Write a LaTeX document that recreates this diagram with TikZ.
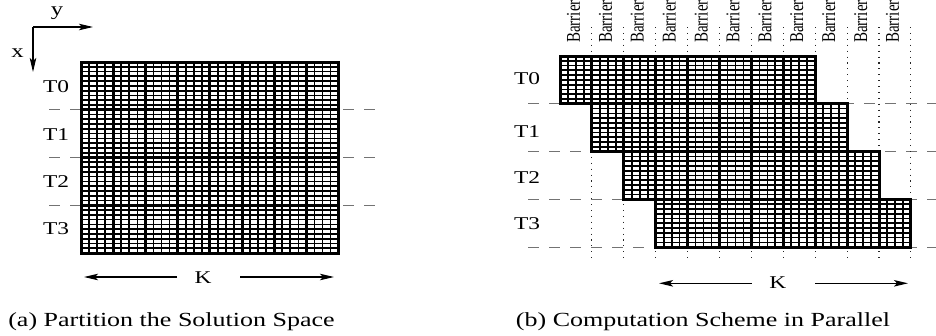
\documentclass[tikz,border=0pt]{standalone}
\usepackage{fontspec}
\setmainfont{Liberation Serif}
\usetikzlibrary{arrows.meta}
\newcommand{\sx}[1]{\scalebox{1.3}[1]{#1}}
\newcommand{\gridrect}[6]{%
  \fill[white] (#1,#2) rectangle ({#1+#3*#5},{#2+#4*#6});
  \pgfmathtruncatemacro\nsx{4*#3-1}
  \pgfmathtruncatemacro\nsy{10*#4-1}
  \foreach \i in {1,...,\nsx} \draw[thinln] ({#1+\i*#5/4},#2) -- ({#1+\i*#5/4},{#2+#4*#6});
  \foreach \j in {1,...,\nsy} \draw[thinln] (#1,{#2+\j*#6/10}) -- ({#1+#3*#5},{#2+\j*#6/10});
  \foreach \i in {1,...,#3} \draw[thickln] ({#1+\i*#5},#2) -- ({#1+\i*#5},{#2+#4*#6});
  \foreach \j in {1,...,#4} \draw[thickln] (#1,{#2+\j*#6}) -- ({#1+#3*#5},{#2+\j*#6});
  \draw[thickln] (#1,#2) rectangle ({#1+#3*#5},{#2+#4*#6});
}
\tikzset{
  thinln/.style={line width=1.7bp},
  thickln/.style={line width=3bp, line join=miter},
  sepline/.style={line width=1.2bp, black!55, dash pattern=on 10.5bp off 10.5bp},
  barline/.style={line width=1.1bp, black!85, dash pattern=on 1.1bp off 4.8bp},
  arr/.style={line width=1.2bp, -{Stealth[length=14bp,width=6.5bp,inset=3bp]}},
  tlabel/.style={inner sep=0pt, font=\fontsize{18bp}{20bp}\selectfont},
  axlabel/.style={inner sep=0pt, font=\fontsize{19bp}{21bp}\selectfont},
  caption/.style={inner sep=0pt, font=\fontsize{20bp}{22bp}\selectfont},
  barlabel/.style={inner sep=0pt, rotate=90, anchor=base west, font=\fontsize{15bp}{17bp}\selectfont},
}
\begin{document}
\begin{tikzpicture}[x=1bp,y=-1bp]
\useasboundingbox (0,0) rectangle (936,335);

% ---------------- panel (a) ----------------
\coordinate (ax0) at (33,27);
\coordinate (axY) at (93,27);
\coordinate (axX) at (33,72);
\draw[arr] (ax0) -- (axY);
\draw[arr] (ax0) -- (axX);
\node[axlabel, anchor=base] (ylab) at (57,15) {\sx{y}};
\node[axlabel, anchor=base] (xlab) at (17.5,57) {\sx{x}};

\foreach \y in {109.75,157.5,205.25} \draw[sepline] (49,\y) -- (378,\y);
\gridrect{81}{62}{8}{4}{32.2}{47.75}

\node[tlabel] (aT0) at (56,87) {\sx{T0}};
\node[tlabel] (aT1) at (56,135) {\sx{T1}};
\node[tlabel] (aT2) at (56,182) {\sx{T2}};
\node[tlabel] (aT3) at (56,229) {\sx{T3}};

\node[tlabel, anchor=base] (aK) at (203,283.3) {\sx{K}};
\coordinate (aKl) at (177,277);
\coordinate (aKle) at (84,277);
\coordinate (aKr) at (240,277);
\coordinate (aKre) at (334,277);
\draw[arr] (aKl) -- (aKle);
\draw[arr] (aKr) -- (aKre);

\node[caption, anchor=base] (capa) at (171.5,326) {\sx{(a) Partition the Solution Space}};

% ---------------- panel (b) ----------------
\foreach \y in {103.8,151.6,199.4,247.2} \draw[sepline] (528,\y) -- (940,\y);
\foreach \k in {1,...,11} {
  \draw[barline] ({560+\k*31.9},27) -- ({560+\k*31.9},261);
  \node[barlabel] (bar\k) at ({560+\k*31.9-12},43) {\scalebox{1}[1.3]{Barrier}};
}
\gridrect{560}{56}{8}{1}{31.9}{47.8}
\gridrect{591.9}{103.8}{8}{1}{31.9}{47.8}
\gridrect{623.8}{151.6}{8}{1}{31.9}{47.8}
\gridrect{655.7}{199.4}{8}{1}{31.9}{47.8}

\node[tlabel] (bT0) at (527,79) {\sx{T0}};
\node[tlabel] (bT1) at (527,132) {\sx{T1}};
\node[tlabel] (bT2) at (527,178) {\sx{T2}};
\node[tlabel] (bT3) at (527,224) {\sx{T3}};

\node[tlabel, anchor=base] (bK) at (777.7,288.5) {\sx{K}};
\coordinate (bKl) at (751.7,283.3);
\coordinate (bKle) at (659,283.3);
\coordinate (bKr) at (815,283.3);
\coordinate (bKre) at (908,283.3);
\draw[arr] (bKl) -- (bKle);
\draw[arr] (bKr) -- (bKre);

\node[caption, anchor=base] (capb) at (703,326) {\sx{(b) Computation Scheme in Parallel}};
\end{tikzpicture}
\end{document}
